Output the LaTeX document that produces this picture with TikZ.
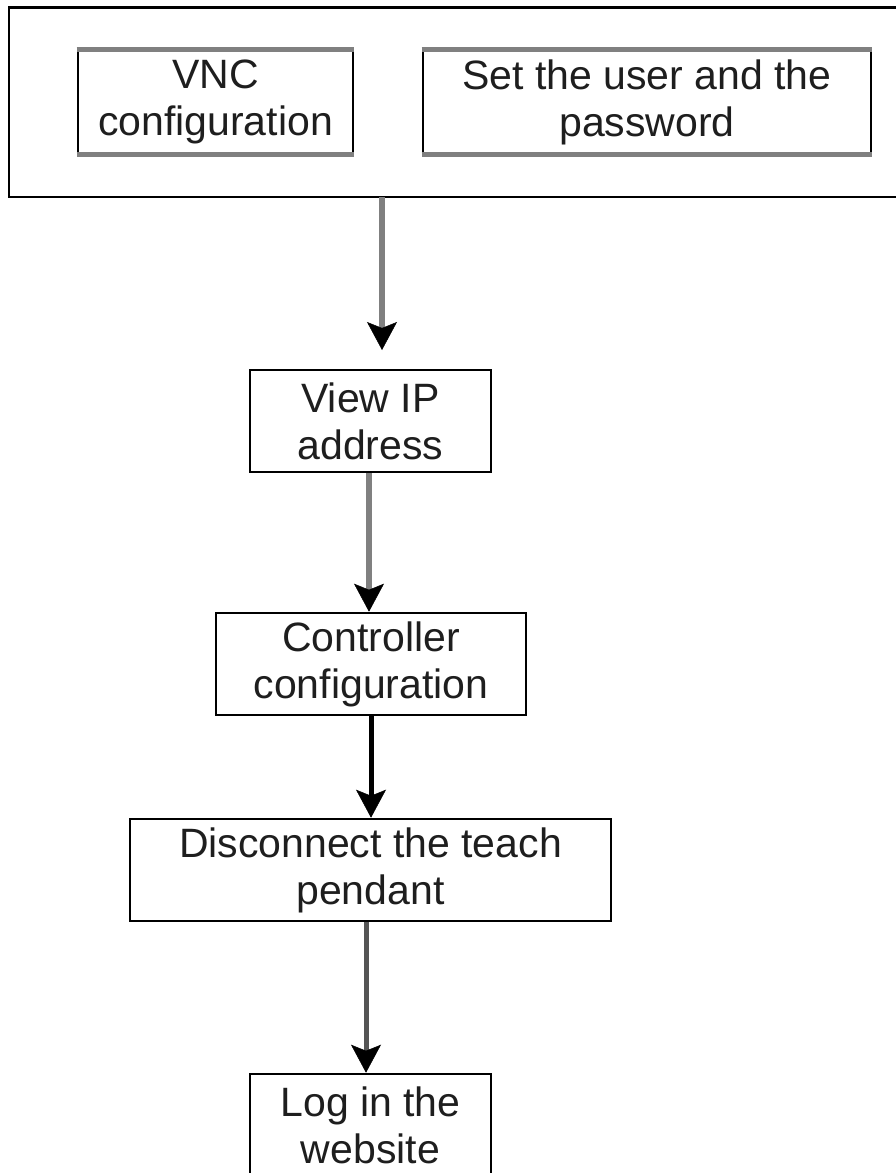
\documentclass[tikz,border=0pt]{standalone}
\usepackage{fontspec}
\setmainfont{Liberation Sans}
\usetikzlibrary{arrows.meta}
\definecolor{lgray}{HTML}{808080}
\definecolor{dgray}{HTML}{555555}
\definecolor{txt}{HTML}{1E1E1E}
\begin{document}
\begin{tikzpicture}[x=1pt,y=-1pt,
  box/.style={draw=black, line width=2.6pt, align=center, inner sep=0pt,
    font=\fontsize{41}{47}\selectfont, text=txt},
  outerbox/.style={draw=black, line width=2.7pt},
  grayedge/.style={draw=lgray, line width=5.5pt},
  tip/.style={-{Stealth[length=28pt,width=30pt,inset=6pt,line width=0.5pt,color=black]}},
  garrow/.style={tip, draw=lgray, line width=6pt},
  darrow/.style={tip, draw=dgray, line width=5pt},
  barrow/.style={tip, draw=black, line width=5pt}
]
\useasboundingbox (0,0) rectangle (896,1173);

% top group
\draw[outerbox] (9,7.5) rectangle (920,197);
\coordinate (outerS) at (382,197);

\node[box, minimum width=275pt, minimum height=106pt] (vnc) at (215.5,102) {VNC\\configuration};
\node[box, minimum width=448pt, minimum height=106pt] (usr) at (647,102) {Set the user and the\\password};
\foreach \n in {vnc,usr}{
  \draw[grayedge] ([yshift=-2pt]\n.north west) -- ([yshift=-2pt]\n.north east);
  \draw[grayedge] ([yshift=2pt]\n.south west) -- ([yshift=2pt]\n.south east);
}

% chain
\node[box, minimum width=241pt, minimum height=102pt] (vip) at (370.5,421) {View IP\\address};
\node[box, minimum width=310pt, minimum height=102pt] (ctl) at (371,664) {Controller\\configuration};
\node[box, minimum width=481pt, minimum height=102pt] (dis) at (370.5,870) {Disconnect the teach\\pendant};
\node[box, minimum width=241pt, minimum height=102pt] (log) at (370.5,1125) {Log in the\\website};

% connectors
\coordinate (a1end) at (382,350);
\draw[garrow] (outerS) -- (a1end);
\draw[garrow] (vip.south -| 369,0) -- (ctl.north -| 369,0);
\draw[barrow] (ctl.south -| 371,0) -- (dis.north -| 371,0);
\draw[darrow] (dis.south -| 366,0) -- (log.north -| 366,0);
\end{tikzpicture}
\end{document}
